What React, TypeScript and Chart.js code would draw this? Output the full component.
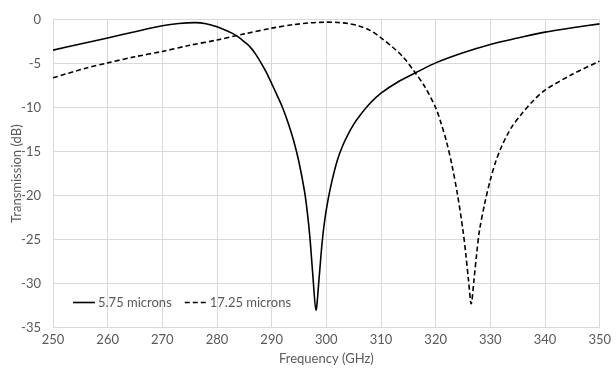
import React, { useEffect, useRef } from "react";
import { Chart, registerables } from "chart.js";

Chart.register(...registerables);

const seriesLabels = ["5.75 microns", "17.25 microns"];

const freqA = [250, 255, 260, 265, 270, 273, 276, 278, 280, 282, 283, 284, 285, 286, 287, 288, 289, 290, 291, 292, 293, 294, 295, 296, 296.5, 297, 297.5, 298.1, 298.7, 299.2, 299.7, 300.3, 301, 302, 303, 304, 305, 306, 308, 310, 313, 316.4, 320, 325, 330, 335, 340, 345, 350];
const transA = [-3.45, -2.75, -2.06, -1.35, -0.68, -0.42, -0.32, -0.45, -0.8, -1.3, -1.6, -2.0, -2.5, -3.05, -3.85, -4.85, -5.95, -7.25, -8.6, -10.0, -11.7, -13.7, -16.2, -19.5, -21.8, -24.8, -28.8, -33.0, -29.2, -25.5, -22.8, -20.5, -18.4, -16.0, -14.3, -13.0, -11.9, -11.0, -9.5, -8.35, -7.1, -6.0, -4.9, -3.75, -2.8, -2.08, -1.4, -0.9, -0.46];

const freqB = [250, 256, 260, 265, 270, 275, 280, 285, 290, 294, 297, 300, 302, 304, 306, 308, 310, 312, 314, 316, 318, 320, 321, 322, 323, 324, 325, 325.5, 326, 326.5, 327, 327.5, 328, 329, 330, 331, 332, 333, 334, 336, 338, 340, 345, 350];
const transB = [-6.6, -5.5, -4.9, -4.2, -3.6, -2.9, -2.3, -1.6, -0.95, -0.55, -0.35, -0.27, -0.3, -0.42, -0.7, -1.2, -2.05, -3.05, -4.2, -5.8, -7.6, -10.0, -11.8, -13.9, -16.6, -19.9, -24.0, -26.6, -29.6, -32.3, -29.6, -26.6, -24.0, -20.8, -18.2, -16.1, -14.5, -13.2, -12.1, -10.5, -9.1, -8.0, -6.2, -4.7];

const xTitle = "Frequency (GHz)";
const yTitle = "Transmission (dB)";

const FONT = "Lato";
const TEXT = "#595959";
const GRID = "#d9d9d9";

const legendPlugin = {
  id: "innerLegend",
  afterDatasetsDraw(chart: any) {
    const ctx = chart.ctx;
    const area = chart.chartArea;
    ctx.save();
    ctx.font = `13px ${FONT}`;
    ctx.fillStyle = TEXT;
    ctx.textBaseline = "middle";
    ctx.textAlign = "left";
    let x = area.left + 20;
    const y = area.bottom - 25;
    chart.data.datasets.forEach((ds: any) => {
      ctx.beginPath();
      ctx.strokeStyle = ds.borderColor;
      ctx.lineWidth = ds.borderWidth;
      ctx.setLineDash(ds.borderDash || []);
      ctx.moveTo(x, y);
      ctx.lineTo(x + 22, y);
      ctx.stroke();
      ctx.setLineDash([]);
      ctx.fillText(ds.label, x + 25, y);
      x += 25 + ctx.measureText(ds.label).width + 13;
    });
    ctx.restore();
  },
};

export default function App() {
  const ref = useRef<HTMLCanvasElement>(null);
  useEffect(() => {
    if (!ref.current) return;
    const chart = new Chart(ref.current, {
      type: "line",
      data: {
        datasets: [
          {
            label: seriesLabels[0],
            data: freqA.map((f, i) => ({ x: f, y: transA[i] })),
            borderColor: "#000000",
            borderWidth: 1.6,
            pointRadius: 0,
            tension: 0.3,
            fill: false,
          },
          {
            label: seriesLabels[1],
            data: freqB.map((f, i) => ({ x: f, y: transB[i] })),
            borderColor: "#000000",
            borderWidth: 1.6,
            borderDash: [5, 3],
            pointRadius: 0,
            tension: 0.3,
            fill: false,
          },
        ],
      },
      options: {
        animation: false,
        responsive: false,
        maintainAspectRatio: false,
        layout: { padding: { top: 8, right: 15, left: 0, bottom: 0 } },
        plugins: { legend: { display: false }, tooltip: { enabled: false } },
        scales: {
          x: {
            type: "linear",
            min: 250,
            max: 350,
            ticks: { stepSize: 10, color: TEXT, font: { family: FONT, size: 13 }, padding: 5, maxRotation: 0 },
            grid: { color: GRID, drawTicks: false },
            border: { color: GRID },
            title: { display: true, text: xTitle, color: TEXT, font: { family: FONT, size: 13 }, padding: { top: 3, bottom: 7 } },
            afterFit: (s: any) => { s.height = 374 - 327.5; },
          },
          y: {
            min: -35,
            max: 0,
            ticks: { stepSize: 5, color: TEXT, font: { family: FONT, size: 13 }, padding: 12 },
            grid: { color: GRID, drawTicks: false },
            border: { color: GRID },
            title: { display: true, text: yTitle, color: TEXT, font: { family: FONT, size: 13 }, padding: { top: 9, bottom: 0 } },
            afterFit: (s: any) => { s.width = 53; },
          },
        },
      },
      plugins: [legendPlugin],
    } as any);
    return () => chart.destroy();
  }, []);
  return (
    <div style={{ position: "fixed", left: 0, top: 0, width: 616, height: 374, background: "#fff" }}>
      <canvas ref={ref} width={616} height={374} style={{ width: 616, height: 374 }} />
    </div>
  );
}
